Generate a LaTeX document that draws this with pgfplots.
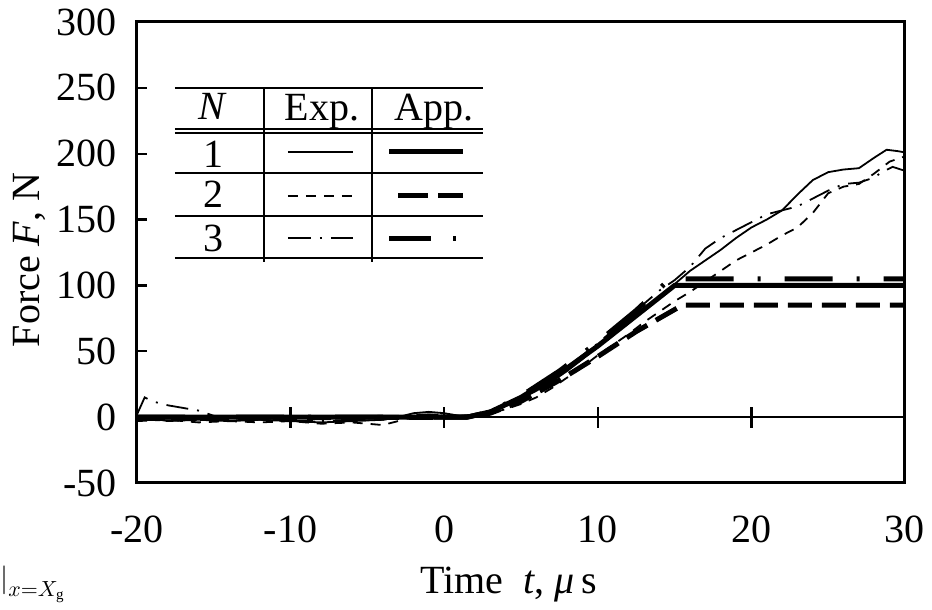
\documentclass[border=0pt]{standalone}
\usepackage{fontspec}
\setmainfont{Liberation Serif}
\usepackage{pgfplots}
\pgfplotsset{compat=1.18}

% thin = measured, thick = approximation
\tikzset{
  expline/.style={black, line width=0.9pt},
  appline/.style={black, line width=2.5pt},
  exp1/.style={expline},
  exp2/.style={expline, dash pattern=on 5pt off 4pt},
  exp3/.style={expline, dash pattern=on 11pt off 4.5pt on 1pt off 4.5pt},
  app1/.style={appline},
  app2/.style={appline, dash pattern=on 12pt off 5pt},
  app3/.style={appline, dash pattern=on 24pt off 12pt on 1.5pt off 12pt},
}

\begin{document}
\fontsize{20}{24}\selectfont
\begin{tikzpicture}
\path (-68.5pt,-63.5pt) rectangle (397.5pt,241.5pt);
\begin{axis}[
  scale only axis,
  width=384pt, height=230.5pt,
  xmin=-20, xmax=30, ymin=-50, ymax=300,
  xtick={-20,-10,0,10,20,30},
  ytick={-50,0,50,100,150,200,250,300},
  axis line style={line width=1.5pt},
  tick pos=left, tick align=inside,
  major tick length=5pt,
  xtick style={draw=none},
  ytick style={line width=1.2pt, black},
  /pgf/number format/assume math mode=true,
  yticklabel style={inner sep=1pt, xshift=-9pt},
  xticklabel style={inner sep=1pt, yshift=-15pt},
  xlabel={Time\ \ \textit{t}, \textit{μ}\,s},
  ylabel={Force \textit{F}, N},
  xlabel style={at={([yshift=-55pt]axis description cs:0.484,0)}, anchor=base, inner sep=0pt},
  ylabel style={at={([xshift=-48.5pt]axis description cs:0,0.484)}, anchor=base, rotate=0, inner sep=0pt},
  clip=true,
]
% zero line and its ticks
\draw[black, line width=1pt] (axis cs:-20,0) -- (axis cs:30,0);
\draw[black, line width=1.2pt] (axis cs:-10,-8) -- (axis cs:-10,8);
\draw[black, line width=1.2pt] (axis cs:0,-8) -- (axis cs:0,8);
\draw[black, line width=1.2pt] (axis cs:10,-8) -- (axis cs:10,8);
\draw[black, line width=1.2pt] (axis cs:20,-8) -- (axis cs:20,8);

% experiments
\addplot[exp1] coordinates {
(-20,-2) (-19,-1) (-18,-3) (-16,-2) (-14,-3) (-12,-2) (-10,-3) (-8,-4) (-6,-3)
(-4,-2) (-3,0) (-2,3) (-1,4) (0,3) (1,1) (2,2) (3,5) (4,9) (5,14) (6,20) (7,27)
(8,35) (9,44) (10,54) (11,63) (12,72) (13,82) (14,91) (15,101) (16,111) (17,119)
(18,127) (19,136) (20,144) (21,150) (22,157) (23,169) (24,180) (25,186) (26,188)
(27,189) (28,197) (28.8,203) (29.5,202) (30,201)};
\addplot[exp2] coordinates {
(-20,-3) (-18,-2) (-16,-4) (-14,-3) (-12,-4) (-10,-3) (-8,-5) (-6,-4) (-4,-6)
(-3,-3) (-2,1) (-1,2) (0,1) (1,0) (2,1) (3,3) (4,6) (5,10) (6,15) (7,22) (8,30)
(9,38) (10,47) (11,55) (12,63) (13,72) (14,80) (15,88) (16,95) (17,103) (18,111)
(19,119) (20,125) (21,131) (22,138) (23,144) (24,155) (25,170) (26,175) (27,177)
(28,185) (29,194) (30,198)};
\addplot[exp3] coordinates {
(-20,2) (-19.5,15) (-19,12) (-18,9) (-17,7) (-16,5) (-15,1) (-14,-1) (-12,-2)
(-10,-3) (-8,-3) (-6,-3) (-4,-2) (-2,2) (0,2) (1,0) (2,2) (3,5) (4,10) (5,16)
(6,22) (7,30) (8,38) (9,47) (10,56) (11,66) (12,76) (13,86) (14,96) (15,104)
(16,114) (17,128) (18,136) (19,142) (20,148) (21,154) (22,157) (23,160) (24,166)
(25,172) (26,177) (27,178) (28,182) (28.5,186) (29.2,190) (30,187)};

% approximations
\addplot[app1] coordinates {(-20,0) (1.5,0) (3,4) (5,15) (7.5,33) (10,54) (12.5,77) (15,100) (30,100)};
\addplot[app2] coordinates {(-20,-1) (1.5,0) (3,3) (5,12) (7.5,28) (10,46) (12.5,65) (15.5,85) (30,85)};
\addplot[app3] coordinates {(-20,0) (1.5,0) (3,4) (5,16) (7.5,35) (10,57) (12.5,81) (14.7,105) (30,105)};

% key table
\draw[line width=1pt] (axis cs:-17.53,249.9) -- (axis cs:2.53,249.9);
\draw[line width=1pt] (axis cs:-17.53,218.4) -- (axis cs:2.53,218.4);
\draw[line width=1pt] (axis cs:-17.53,215.9) -- (axis cs:2.53,215.9);
\draw[line width=1pt] (axis cs:-17.53,185.6) -- (axis cs:2.53,185.6);
\draw[line width=1.2pt] (axis cs:-17.53,152.9) -- (axis cs:2.53,152.9);
\draw[line width=1pt] (axis cs:-17.53,120.8) -- (axis cs:2.53,120.8);
\draw[line width=0.8pt] (axis cs:-11.73,249.9) -- (axis cs:-11.73,117.8);
\draw[line width=0.8pt] (axis cs:-4.70,249.9) -- (axis cs:-4.70,117.8);
\node[anchor=base] at (axis cs:-15.08,225.6) {\textit{N}};
\node[anchor=base] at (axis cs:-7.96,225.0) {Exp.};
\node[anchor=base] at (axis cs:-0.66,225.0) {App.};
\node[anchor=base] at (axis cs:-15.05,189.9) {1};
\node[anchor=base] at (axis cs:-15.05,158.8) {2};
\node[anchor=base] at (axis cs:-15.05,125.4) {3};
\draw[exp1] (axis cs:-10.17,201.5) -- (axis cs:-5.94,201.5);
\draw[exp2] (axis cs:-10.17,167.9) -- (axis cs:-5.94,167.9);
\draw[expline, dash pattern=on 11.5pt off 4.5pt on 1pt off 4.5pt] (axis cs:-10.17,136.0) -- (axis cs:-5.94,136.0);
\draw[appline] (axis cs:-3.59,201.5) -- (axis cs:1.22,201.5);
\draw[appline, dash pattern=on 15pt off 5pt] (axis cs:-3.00,167.9) -- (axis cs:1.22,167.9);
\draw[appline, dash pattern=on 21pt off 11pt on 1.5pt off 11pt] (axis cs:-3.59,136.0) -- (axis cs:1.22,136.0);
\end{axis}
\node[anchor=base west, inner sep=0pt, font=\fontsize{15}{18}\selectfont] at (-68.5pt,-52.5pt) {$\big|_{x=X_{\mathrm{g}}}$};
\end{tikzpicture}
\end{document}
